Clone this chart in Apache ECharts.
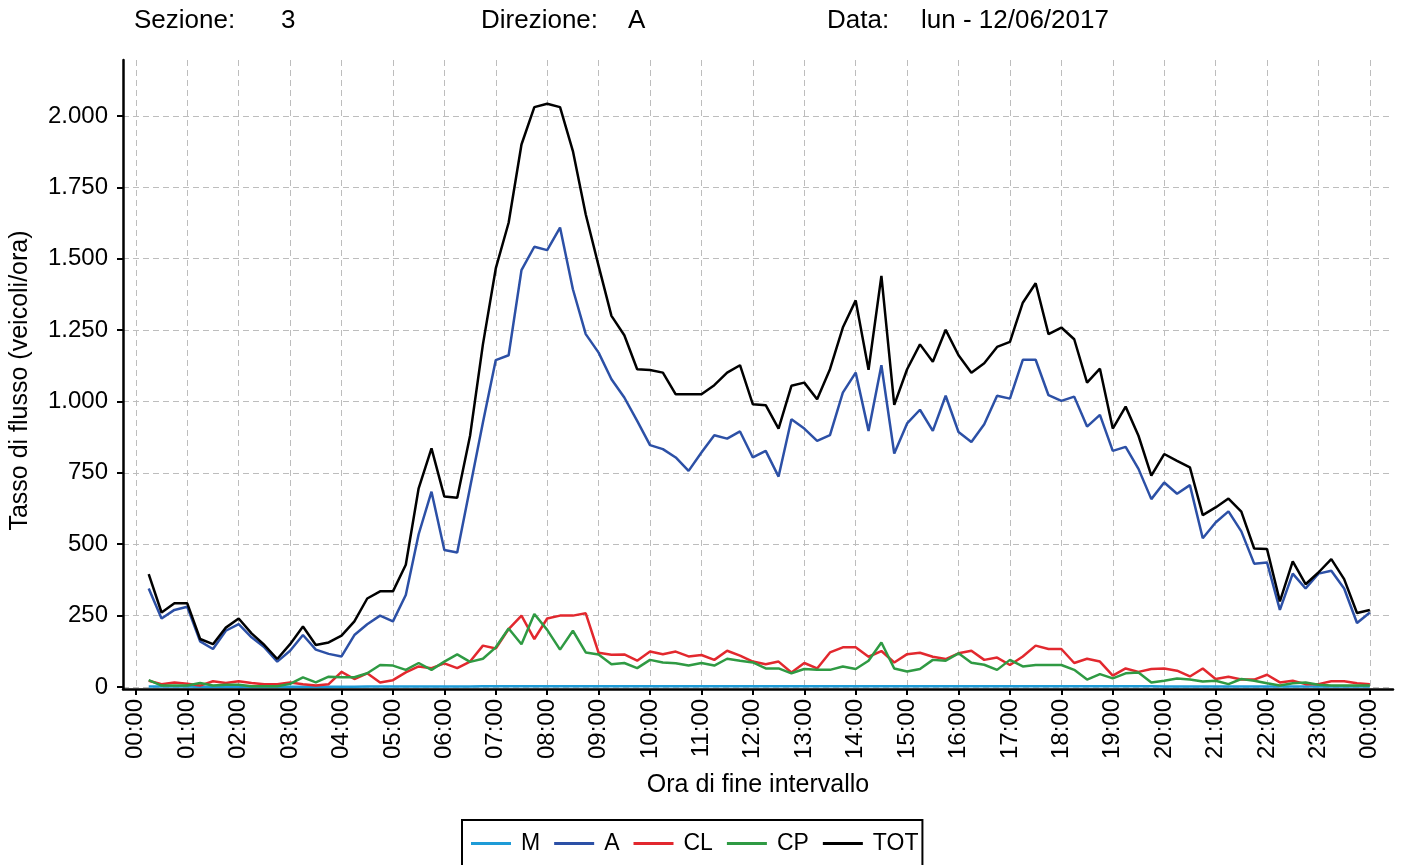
<!DOCTYPE html>
<html>
<head>
<meta charset="utf-8">
<script src="https://cdn.jsdelivr.net/npm/echarts@6/dist/echarts.min.js"></script>
<style>
  html, body { margin: 0; padding: 0; background: #fff; }
  #chart { width: 1403px; height: 865px; }
</style>
</head>
<body>
<div id="chart"></div>
<script>
// minutes at end of each 15-minute interval (00:15 ... 24:00)
const minutes = Array.from({ length: 96 }, (_, i) => (i + 1) * 15);
const hourTicks = Array.from({ length: 25 }, (_, i) => i * 60);
const yTicks = [0, 250, 500, 750, 1000, 1250, 1500, 1750, 2000];

const seriesNames = ['M', 'A', 'CL', 'CP', 'TOT'];
const seriesColors = ['#1e9bd7', '#2c50a6', '#e2282e', '#2f9a43', '#000000'];

const M = [
  2, 2, 2, 2, 1, 1, 1, 1, 1, 1, 1, 1, 1, 1, 1, 1, 1, 2, 2, 2, 2, 2, 2, 2,
  2, 2, 3, 3, 3, 3, 3, 3, 3, 3, 3, 3, 3, 3, 3, 3, 3, 3, 3, 3, 3, 3, 3, 3,
  3, 3, 3, 3, 3, 3, 3, 3, 3, 3, 3, 3, 3, 3, 3, 3, 3, 3, 3, 3, 3, 3, 3, 3,
  3, 3, 3, 3, 3, 3, 3, 2, 2, 2, 2, 2, 2, 2, 2, 2, 2, 2, 2, 2, 2, 2, 2, 2
];
const A = [
  345, 240, 270, 281, 160, 133, 197, 220, 174, 139, 89, 127,
  182, 131, 116, 107, 182, 220, 250, 230, 322, 535, 684, 480,
  471, 699, 926, 1145, 1162, 1460, 1542, 1530, 1609, 1393, 1236, 1171,
  1078, 1014, 932, 847, 833, 804, 757, 821, 882, 870, 895, 804,
  827, 737, 938, 905, 862, 882, 1031, 1101, 897, 1127, 818, 923,
  971, 897, 1020, 893, 858, 920, 1020, 1010, 1146, 1146, 1022, 1002,
  1017, 912, 953, 827, 841, 764, 658, 716, 677, 707, 521, 576,
  615, 545, 432, 436, 270, 397, 345, 397, 407, 345, 224, 261
];
const CL = [
  22, 10, 16, 11, 5, 20, 14, 20, 14, 10, 10, 16,
  10, 5, 10, 53, 28, 48, 16, 24, 51, 72, 66, 83,
  66, 89, 145, 135, 203, 250, 168, 240, 250, 250, 258, 120,
  113, 114, 92, 124, 115, 124, 107, 112, 95, 127, 110, 89,
  80, 89, 51, 84, 65, 121, 139, 139, 106, 126, 86, 115,
  120, 106, 98, 118, 127, 95, 103, 77, 107, 145, 133, 133,
  84, 99, 89, 40, 65, 53, 63, 65, 57, 37, 65, 28,
  36, 26, 26, 43, 16, 22, 10, 10, 20, 20, 13, 10
];
const CP = [
  24, 5, 5, 5, 14, 5, 8, 8, 3, 3, 3, 11,
  34, 16, 36, 34, 34, 48, 77, 75, 60, 84, 60, 89,
  114, 88, 99, 139, 205, 150, 256, 200, 131, 197, 121, 114,
  80, 84, 66, 95, 86, 83, 75, 84, 75, 99, 92, 86,
  65, 65, 48, 63, 60, 60, 72, 63, 92, 156, 65, 54,
  63, 95, 92, 118, 85, 78, 60, 95, 72, 77, 77, 77,
  60, 26, 45, 30, 48, 51, 16, 22, 30, 26, 19, 22,
  10, 28, 22, 13, 5, 13, 16, 8, 5, 5, 5, 5
];
const TOT = [
  395, 261, 293, 293, 168, 150, 208, 240, 188, 147, 98, 150,
  212, 147, 156, 180, 230, 310, 335, 335, 428, 696, 836, 667,
  663, 880, 1200, 1466, 1626, 1900, 2031, 2043, 2031, 1877, 1655, 1475,
  1300, 1232, 1113, 1110, 1101, 1025, 1025, 1025, 1057, 1101, 1127, 990,
  987, 905, 1055, 1066, 1008, 1113, 1259, 1354, 1111, 1440, 988, 1113,
  1200, 1139, 1251, 1162, 1101, 1134, 1191, 1209, 1346, 1414, 1236, 1259,
  1218, 1066, 1115, 905, 982, 880, 740, 816, 792, 769, 602, 629,
  660, 614, 485, 483, 300, 440, 360, 401, 448, 378, 259, 270
];
const seriesValues = [M, A, CL, CP, TOT];

const FONT = '"Liberation Sans", Arial, Helvetica, sans-serif';
const txt = (size) => ({ fontFamily: FONT, fontSize: size, color: '#000', fontWeight: 'normal' });

const headerItems = [
  { text: 'Sezione:', left: 134 },
  { text: '3', left: 281 },
  { text: 'Direzione:', left: 481 },
  { text: 'A', left: 628 },
  { text: 'Data:', left: 827 },
  { text: 'lun - 12/06/2017', left: 921 }
];

const hourLabel = (v) => {
  const h = Math.floor(v / 60) % 24;
  return (h < 10 ? '0' : '') + h + ':00';
};
const itNumber = (v) => (v >= 1000
  ? Math.floor(v / 1000) + '.' + String(v % 1000).padStart(3, '0')
  : String(v));

const chart = echarts.init(document.getElementById('chart'));
chart.setOption({
  animation: false,
  backgroundColor: '#ffffff',
  title: headerItems.map(h => ({
    text: h.text,
    left: h.left,
    top: 8,
    padding: 0,
    textStyle: txt(26)
  })),
  legend: {
    data: seriesNames,
    left: 462,
    top: 820,
    padding: [12, 4, 14, 9],
    borderColor: '#000',
    borderWidth: 2,
    icon: 'rect',
    itemWidth: 40,
    itemHeight: 3,
    itemGap: 14,
    textStyle: Object.assign(txt(23), { padding: [0, 0, 0, 5] })
  },
  grid: { left: 123, right: 10, top: 60, bottom: 176 },
  xAxis: {
    type: 'value',
    min: -15,
    max: 1467,
    name: 'Ora di fine intervallo',
    nameLocation: 'middle',
    nameGap: 84,
    nameTextStyle: txt(25),
    axisLine: { show: true, onZero: false, lineStyle: { color: '#000', width: 2.5 } },
    axisTick: { show: true, customValues: hourTicks, length: 6, lineStyle: { color: '#000', width: 2 } },
    axisLabel: {
      customValues: hourTicks,
      rotate: 90,
      margin: 10,
      formatter: hourLabel,
      ...txt(24)
    },
    splitLine: { show: true, lineStyle: { color: '#bdbdbd', width: 1, type: [6, 4] } }
  },
  yAxis: {
    type: 'value',
    min: -7,
    max: 2196,
    name: 'Tasso di flusso (veicoli/ora)',
    nameLocation: 'middle',
    nameRotate: 90,
    nameGap: 90,
    nameTextStyle: Object.assign(txt(25), { padding: [0, 12, 0, 0] }),
    axisLine: { show: true, onZero: false, lineStyle: { color: '#000', width: 2.5 } },
    axisTick: { show: true, customValues: yTicks, length: 6, lineStyle: { color: '#000', width: 2 } },
    axisLabel: {
      customValues: yTicks,
      margin: 15,
      formatter: itNumber,
      ...txt(24)
    },
    splitLine: { show: true, lineStyle: { color: '#bdbdbd', width: 1, type: [6, 4] } }
  },
  series: seriesNames.map((name, k) => ({
    name: name,
    type: 'line',
    showSymbol: false,
    symbol: 'none',
    color: seriesColors[k],
    lineStyle: { color: seriesColors[k], width: 2.5 },
    data: minutes.map((m, i) => [m, seriesValues[k][i]]),
    z: 2 + k
  }))
});
</script>
</body>
</html>
